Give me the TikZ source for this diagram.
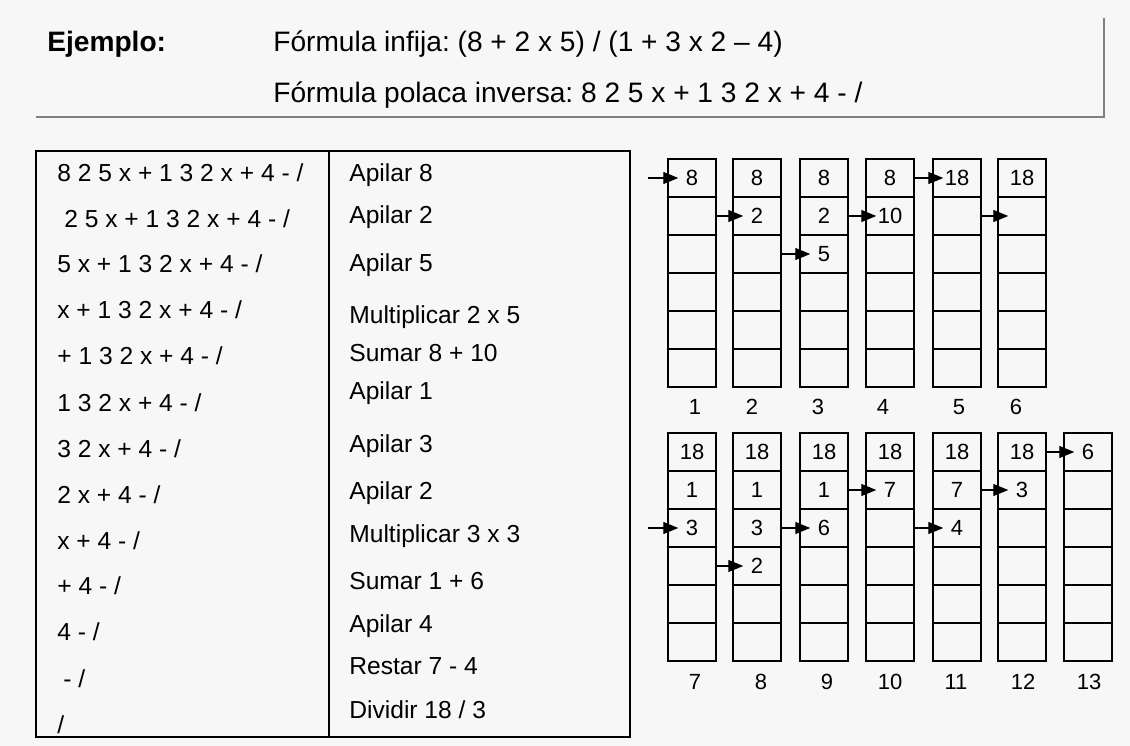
\documentclass[tikz,border=0pt]{standalone}
\usepackage{fontspec}
\setmainfont{Liberation Sans}
\usepackage{xcolor}
\usetikzlibrary{arrows.meta, positioning}
\definecolor{paper}{HTML}{F7F7F7}
\frenchspacing

\begin{document}
\begin{tikzpicture}[
    x=0.02cm, y=-0.02cm,
    cell/.style={draw, line width=0.9pt, minimum width=0.95cm, minimum height=0.76cm, inner sep=0pt, outer sep=0pt},
    val/.style={font=\fontsize{12.5}{14}\selectfont, inner sep=0pt},
    num/.style={font=\fontsize{12.5}{14}\selectfont, inner sep=0pt},
    row/.style={font=\fontsize{14}{16}\selectfont, anchor=base west, inner sep=0pt},
    head/.style={font=\fontsize{16}{19}\selectfont, anchor=base west, inner sep=0pt},
    arrow/.style={-{Triangle[length=3mm, width=2.4mm]}, line width=0.7pt, shorten >=-2mm},
]

% Background and header
\fill[paper] (0,0) rectangle (1130,746);
\draw[gray, line width=1pt] (36,117) -- (1104,117) -- (1104,18);
\node[head, font=\fontsize{16}{19}\selectfont\bfseries] (ej) at (47,52) {Ejemplo:};
\node[head] (infija) at (273,52) {Fórmula infija: (8 + 2 x 5) / (1 + 3 x 2 – 4)};
\node[head] (polaca) at (273,103) {Fórmula polaca inversa: 8 2 5 x + 1 3 2 x + 4 - /};

% Table
\draw[line width=0.7pt] (36,151) rectangle (630,737);
\draw[line width=0.7pt] (329,151) -- (329,737);

% Left column: remaining formula
\node[row] (l1) at (57,182) {8 2 5 x + 1 3 2 x + 4 - /};
\node[row] (l2) at (64,228) {2 5 x + 1 3 2 x + 4 - /};
\node[row] (l3) at (57,273) {5 x + 1 3 2 x + 4 - /};
\node[row] (l4) at (57,319) {x + 1 3 2 x + 4 - /};
\node[row] (l5) at (57,365) {+ 1 3 2 x + 4 - /};
\node[row] (l6) at (57,412) {1 3 2 x + 4 - /};
\node[row] (l7) at (57,458) {3 2 x + 4 - /};
\node[row] (l8) at (57,504) {2 x + 4 - /};
\node[row] (l9) at (57,550) {x + 4 - /};
\node[row] (l10) at (57,595) {+ 4 - /};
\node[row] (l11) at (57,641) {4 - /};
\node[row] (l12) at (63,687) {- /};
\node[row] (l13) at (57,733) {/};

% Right column: operation
\node[row] (r1) at (349,182) {Apilar 8};
\node[row] (r2) at (349,224) {Apilar 2};
\node[row] (r3) at (349,272) {Apilar 5};
\node[row] (r4) at (349,324) {Multiplicar 2 x 5};
\node[row] (r5) at (349,362) {Sumar 8 + 10};
\node[row] (r6) at (349,400) {Apilar 1};
\node[row] (r7) at (349,453) {Apilar 3};
\node[row] (r8) at (349,500) {Apilar 2};
\node[row] (r9) at (349,542) {Multiplicar 3 x 3};
\node[row] (r10) at (349,590) {Sumar 1 + 6};
\node[row] (r11) at (349,632) {Apilar 4};
\node[row] (r12) at (349,674) {Restar 7 - 4};
\node[row] (r13) at (349,718) {Dividir 18 / 3};

% Stacks
\foreach \s/\x/\y in {1/692/178, 2/757/178, 3/824/178, 4/890/178, 5/957/178, 6/1022/178,
                      7/692/452, 8/757/452, 9/824/452, 10/890/452, 11/957/452, 12/1022/452, 13/1088/452} {
    \foreach \r in {1,...,6}
        \node[cell] (s\s-\r) at (\x,{\y+38*(\r-1)}) {};
}

% Stack contents
\foreach \c/\t in {s1-1/8, s2-1/8, s2-2/2, s3-1/8, s3-2/2, s3-3/5, s4-1/8, s4-2/10, s5-1/18, s6-1/18,
                   s7-1/18, s7-2/1, s7-3/3, s8-1/18, s8-2/1, s8-3/3, s8-4/2, s9-1/18, s9-2/1, s9-3/6,
                   s10-1/18, s10-2/7, s11-1/18, s11-2/7, s11-3/4, s12-1/18, s12-2/3, s13-1/6}
    \node[val] (v\c) at (\c) {\t};

% Step numbers
\node[num] (n1) at (695,407) {1};
\node[num] (n2) at (752,407) {2};
\node[num] (n3) at (818,407) {3};
\node[num] (n4) at (883,407) {4};
\node[num] (n5) at (959,407) {5};
\node[num] (n6) at (1016,407) {6};
\node[num] (n7) at (695,682) {7};
\node[num] (n8) at (761,682) {8};
\node[num] (n9) at (827,682) {9};
\node[num] (n10) at (890,682) {10};
\node[num] (n11) at (956,682) {11};
\node[num] (n12) at (1023,682) {12};
\node[num] (n13) at (1089,682) {13};

% Top pointers
\coordinate (in1) at (648,178);
\coordinate (in7) at (648,528);
\draw[arrow] (in1) -- (s1-1.west);
\draw[arrow] (s1-2.east) -- (s2-2.west);
\draw[arrow] (s2-3.east) -- (s3-3.west);
\draw[arrow] (s3-2.east) -- (s4-2.west);
\draw[arrow] (s4-1.east) -- (s5-1.west);
\draw[arrow] (s5-2.east) -- (s6-2.west);
\draw[arrow] (in7) -- (s7-3.west);
\draw[arrow] (s7-4.east) -- (s8-4.west);
\draw[arrow] (s8-3.east) -- (s9-3.west);
\draw[arrow] (s9-2.east) -- (s10-2.west);
\draw[arrow] (s10-3.east) -- (s11-3.west);
\draw[arrow] (s11-2.east) -- (s12-2.west);
\draw[arrow] (s12-1.east) -- (s13-1.west);

\end{tikzpicture}
\end{document}
